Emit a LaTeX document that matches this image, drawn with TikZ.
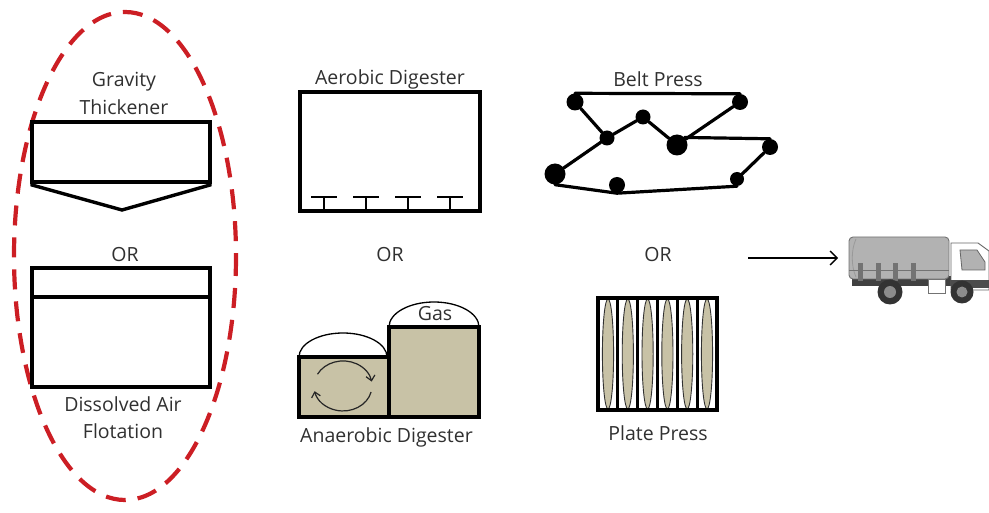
\documentclass[tikz,border=0pt]{standalone}
\usepackage{fontspec}
\setmainfont{Open Sans}
\usetikzlibrary{arrows.meta}
\definecolor{sludge}{RGB}{200,194,166}
\definecolor{labelgray}{RGB}{48,48,48}
\definecolor{ovalred}{RGB}{204,30,36}
\definecolor{cargo}{RGB}{178,178,178}
\tikzset{
  unit/.style={draw=black, line width=3.4pt, line join=miter},
  lbl/.style={text=labelgray, font=\fontsize{19.5}{23}\selectfont, inner sep=0pt},
  roller/.style={circle, fill=black, inner sep=0pt, minimum size=#1},
  belt/.style={draw=black, line width=3.2pt, line cap=round},
  diffuser/.style={draw=black, line width=1.9pt},
  lens/.style={fill=sludge, draw=black!80, line width=0.9pt},
}
\begin{document}
\begin{tikzpicture}[x=1pt,y=-1pt]
\useasboundingbox (0,0) rectangle (989,513);

% ---- thickening group outline
\draw[ovalred, line width=4.2pt, dash pattern=on 20pt off 12pt]
  (125,256) ellipse[x radius=111, y radius=244];

% ---- gravity thickener
\node[lbl] (gtlabel1) at (124,82) {Gravity};
\node[lbl] (gtlabel2) at (124,107) {Thickener};
\draw[unit] (32,122) rectangle (210,182);
\draw[unit] (32,182) -- (32,185) -- (122,210) -- (210,185) -- (210,182);

\node[lbl] (or1) at (125,255) {OR};

% ---- dissolved air flotation
\draw[unit] (32,268) rectangle (210,387);
\draw[unit] (32,297) -- (210,297);
\node[lbl] (daflabel1) at (123,404) {Dissolved Air};
\node[lbl] (daflabel2) at (123,431) {Flotation};

% ---- aerobic digester
\node[lbl] (aerlabel) at (390,79) {Aerobic Digester};
\draw[unit] (300,92) rectangle (480,211);
\foreach \cx in {324,366,408,450}{
  \draw[diffuser] (\cx-13,197) -- (\cx+13,197);
  \draw[diffuser] (\cx,197) -- (\cx,210);
}

\node[lbl] (or2) at (390,255) {OR};

% ---- anaerobic digester
\draw[black, line width=1.3pt] (299,357) arc[start angle=180, end angle=360, x radius=44, y radius=24];
\draw[black, line width=1.3pt] (389,327) arc[start angle=180, end angle=360, x radius=45, y radius=25];
\draw[unit, fill=sludge] (299,357) rectangle (389,417);
\draw[unit, fill=sludge] (389,327) rectangle (479,417);
\node[lbl] (gaslabel) at (435,314) {Gas};
% mixing arrows
\draw[black!85, line width=1.2pt, -{Straight Barb[length=5pt,width=9pt]}]
  (317.5,374.2) arc[start angle=208, end angle=350, x radius=29, y radius=25];
\draw[black!85, line width=1.2pt, -{Straight Barb[length=5pt,width=9pt]}]
  (371.1,392) arc[start angle=14, end angle=168, x radius=29, y radius=25];
\begin{scope}
  \clip (290,420) rectangle (480,455);
  \node[lbl, anchor=west] (anlabel) at (300,437) {Anaerobic Digester};
\end{scope}

% ---- belt press
\node[lbl] (bplabel) at (658,79) {Belt Press};
\node[roller=17pt] (r1) at (575,102) {};
\node[roller=16pt] (r2) at (740,102) {};
\node[roller=15pt] (r3) at (607,138) {};
\node[roller=15pt] (r4) at (643,117) {};
\node[roller=21pt] (r5) at (677,145) {};
\node[roller=16pt] (r6) at (770,147) {};
\node[roller=14pt] (r7) at (737,179) {};
\node[roller=16pt] (r8) at (617,185) {};
\node[roller=21pt] (r9) at (555,174) {};
% upper belt
\draw[belt] (r1.north) -- (r2.north);
\draw[belt] (r2) -- (r5);
\draw[belt] (r5) -- (r4);
\draw[belt] (r4) -- (r3);
\draw[belt] (r3) -- (r1);
% lower belt
\draw[belt] (r9) -- (r3);
\draw[belt] (r5.north east) -- (r6.north);
\draw[belt] (r6) -- (r7);
\draw[belt] (r7.south) -- (r8.south);
\draw[belt] (r8.south) -- (r9.south);

\node[lbl] (or3) at (658,255) {OR};

% ---- plate press
\foreach \i in {0,...,5}{
  \draw[lens] (608+\i*19.8,354) ellipse[x radius=5.6, y radius=55];
}
\foreach \i in {1,...,5}{
  \draw[black, line width=3pt] (598+\i*19.8,298) -- (598+\i*19.8,410);
}
\draw[unit] (598,298) rectangle (717,410);
\node[lbl] (pplabel) at (658,433) {Plate Press};

% ---- haul-off truck
\coordinate (feed) at (748,258);
\coordinate (truck) at (838,258);
\draw[line width=1.4pt, -{Straight Barb[length=7pt,width=14pt]}] (feed) -- (truck);

% chassis
\fill[black!75] (852,276) rectangle (978,286);
% cargo tank
\draw[fill=cargo, draw=black!55, line width=0.9pt, rounded corners=4pt] (849,237) rectangle (949,279);
\draw[black!40, line width=0.8pt] (856,239) .. controls (851,250) and (851,266) .. (856,277);
\draw[black!55, line width=0.8pt] (849,270) -- (949,270);
\foreach \sx in {858,876,893,911}{
  \fill[black!55] (\sx,263) rectangle (\sx+5,281);
}
% fuel tank
\draw[fill=white, draw=black!55, line width=0.8pt] (928,279) rectangle (945,293);
% cab
\draw[fill=white, draw=black!60, line width=0.9pt]
  (951,243) -- (978,243) -- (989,251) -- (989,290) -- (951,290) -- cycle;
\draw[fill=black!30, draw=black!60, line width=0.8pt]
  (960,250) -- (977,250) -- (985,262) -- (985,270) -- (962,270) -- cycle;
\fill[black!70] (951,280) rectangle (989,288);
% wheels
\fill[black!80] (890,292) circle (12.5);
\fill[black!45] (890,292) circle (6);
\fill[black!80] (962,292) circle (11.5);
\fill[black!45] (962,292) circle (5.5);
\end{tikzpicture}
\end{document}
